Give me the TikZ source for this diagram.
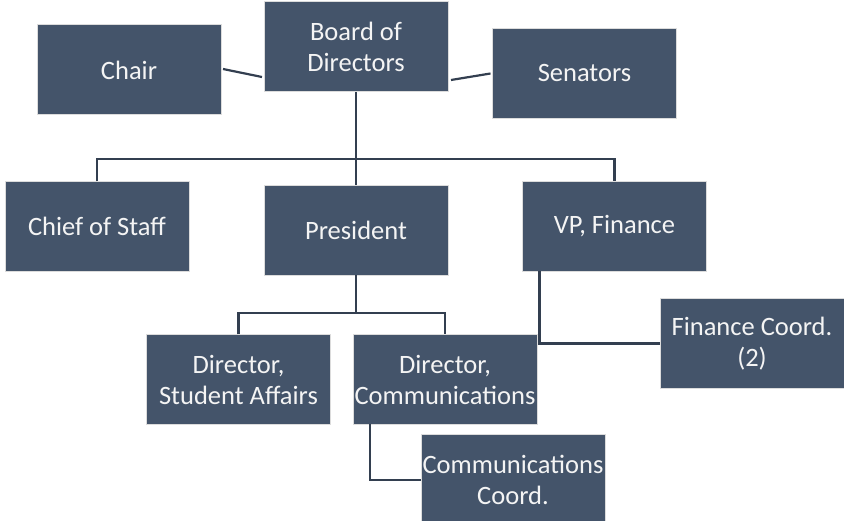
\documentclass[tikz,border=0pt]{standalone}
\usepackage{fontspec}
\setmainfont{Carlito}
\usetikzlibrary{calc}
\definecolor{boxfill}{HTML}{44546A}
\definecolor{boxline}{HTML}{DCDCDC}
\definecolor{connline}{HTML}{333F50}
\definecolor{txt}{HTML}{F4F4F4}
\tikzset{
  orgbox/.style={rectangle, fill=boxfill, draw=boxline, line width=1pt,
    inner sep=0pt, outer sep=0pt, text=txt, align=center,
    font=\fontsize{26.5}{31}\selectfont, minimum width=184pt, minimum height=90pt},
  conn/.style={draw=connline, line width=2.2pt}
}
\begin{document}
\begin{tikzpicture}[x=1pt,y=-1pt]
\useasboundingbox (0,0) rectangle (844,521);
\node[orgbox] (board) at (356,47) {Board of\\Directors};
\node[orgbox] (chair) at (129,70) {Chair};
\node[orgbox] (sen) at (584.5,73.5) {Senators};
\node[orgbox] (cos) at (97,226.5) {Chief of Staff};
\node[orgbox] (pres) at (356,230.5) {President};
\node[orgbox] (vp) at (614.5,226.5) {VP, Finance};
\node[orgbox] (fin) at (752,343.5) {Finance Coord.\\(2)};
\node[orgbox] (dsa) at (238.5,379.5) {Director,\\Student Affairs};
\node[orgbox] (dcom) at (445,379.5) {Director,\\Communications};
\node[orgbox] (cc) at (513,480) {Communications\\Coord.};
\coordinate (bus) at (356,159);
\coordinate (pbus) at (356,313);
% top connectors
\draw[conn] ([xshift=2pt,yshift=1pt]chair.east) -- ([xshift=-2pt,yshift=-30pt]board.west);
\draw[conn] ([xshift=3pt,yshift=-33pt]board.east) -- ([xshift=-2pt]sen.west);
% board bus
\draw[conn] (board.south) -- (pres.north);
\draw[conn] (cos.north) -- (cos.north |- bus) -- (vp.north |- bus) -- (vp.north);
% president bus
\draw[conn] (pres.south) -- (pbus);
\draw[conn] (dsa.north) -- (dsa.north |- pbus) -- (dcom.north |- pbus) -- (dcom.north);
% elbow connectors
\draw[conn] ([xshift=17pt]vp.south west) |- (fin.west);
\draw[conn] ([xshift=17pt]dcom.south west) |- (cc.west);
\end{tikzpicture}
\end{document}
